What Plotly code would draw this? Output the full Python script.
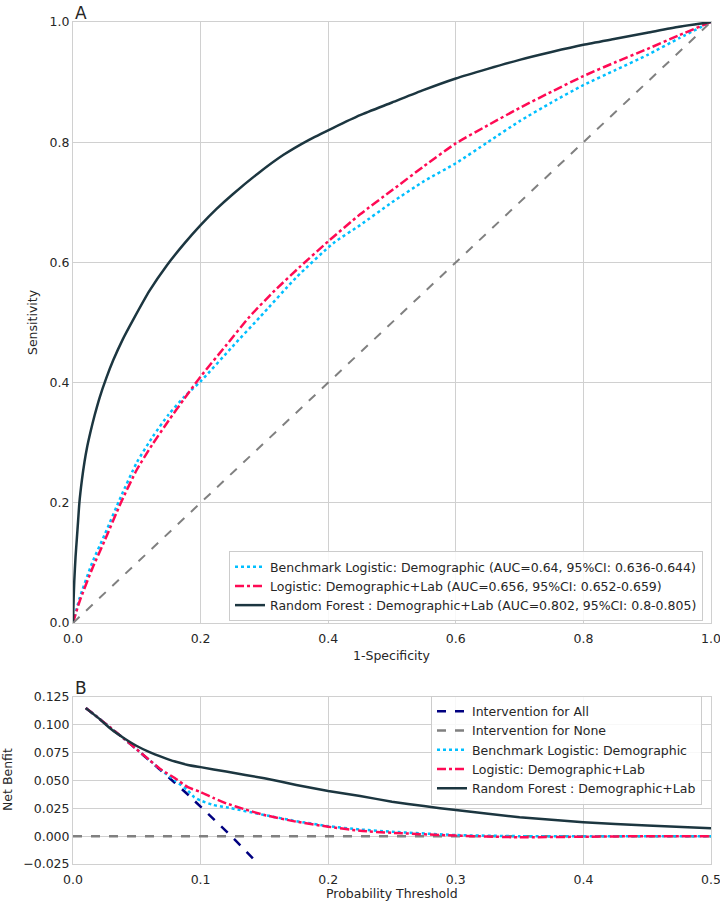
import plotly.graph_objects as go
from plotly.subplots import make_subplots

# ---- Panel A: ROC curves ----
diag_x = [0.0, 1.0]
diag_y = [0.0, 1.0]

bench_fpr = [0, 0.01, 0.03, 0.05, 0.075, 0.1, 0.125, 0.15, 0.175, 0.2, 0.25, 0.293, 0.35, 0.408, 0.45, 0.5,
             0.55, 0.6, 0.65, 0.7, 0.75, 0.8, 0.85, 0.9, 0.95, 1.0]
bench_tpr = [0, 0.04, 0.1, 0.148, 0.21, 0.267, 0.31, 0.347, 0.377, 0.402, 0.46, 0.509, 0.575, 0.632, 0.662,
             0.7, 0.735, 0.765, 0.8, 0.835, 0.866, 0.895, 0.92, 0.945, 0.973, 1.0]

logit_fpr = [0, 0.01, 0.03, 0.05, 0.075, 0.1, 0.125, 0.15, 0.175, 0.2, 0.24, 0.277, 0.316, 0.356, 0.4, 0.45,
             0.5, 0.55, 0.6, 0.65, 0.7, 0.75, 0.8, 0.85, 0.9, 0.95, 1.0]
logit_tpr = [0, 0.035, 0.09, 0.138, 0.2, 0.255, 0.298, 0.337, 0.374, 0.41, 0.462, 0.51, 0.553, 0.593, 0.635,
             0.68, 0.72, 0.76, 0.798, 0.828, 0.857, 0.884, 0.91, 0.933, 0.955, 0.978, 1.0]

rf_fpr = [0, 0.001, 0.002, 0.004, 0.006, 0.008, 0.01, 0.014, 0.018, 0.022, 0.027, 0.034, 0.042, 0.052,
          0.063, 0.078, 0.094, 0.12, 0.147, 0.175, 0.2, 0.225, 0.25, 0.29, 0.33, 0.37, 0.408, 0.45, 0.5,
          0.55, 0.6, 0.65, 0.7, 0.75, 0.8, 0.85, 0.9, 0.95, 1.0]
rf_tpr = [0, 0.04, 0.07, 0.11, 0.14, 0.17, 0.2, 0.238, 0.268, 0.292, 0.316, 0.346, 0.376, 0.407,
          0.437, 0.472, 0.504, 0.553, 0.595, 0.632, 0.662, 0.689, 0.713, 0.748, 0.779, 0.804, 0.824, 0.845,
          0.866, 0.887, 0.906, 0.922, 0.937, 0.95, 0.962, 0.972, 0.982, 0.992, 1.0]

roc_names = [
    "Benchmark Logistic: Demographic (AUC=0.64, 95%CI: 0.636-0.644)",
    "Logistic: Demographic+Lab (AUC=0.656, 95%CI: 0.652-0.659)",
    "Random Forest : Demographic+Lab (AUC=0.802, 95%CI: 0.8-0.805)",
]

# ---- Panel B: decision curves ----
all_t = [0.01, 0.02, 0.03, 0.04, 0.05, 0.06, 0.07, 0.08, 0.09, 0.10, 0.11, 0.12, 0.13, 0.14, 0.15]
all_nb = [0.1152, 0.1061, 0.0969, 0.0875, 0.0779, 0.0681, 0.0581, 0.0478, 0.0374, 0.0267,
          0.0157, 0.0046, -0.0069, -0.0186, -0.0306]

none_t = [0.0, 0.5]
none_nb = [0.0, 0.0]

bench_t = [0.01, 0.02, 0.03, 0.04, 0.05, 0.06, 0.07, 0.08, 0.09, 0.095, 0.1, 0.11, 0.12, 0.15, 0.175,
           0.2, 0.225, 0.25, 0.3, 0.35, 0.4, 0.45, 0.5]
bench_nb = [0.1152, 0.1061, 0.0969, 0.0875, 0.0779, 0.0681, 0.0585, 0.05, 0.041, 0.035, 0.032, 0.028,
            0.026, 0.019, 0.0135, 0.009, 0.006, 0.004, 0.001, 0.0, 0.0, 0.0, 0.0]

logit_t = [0.01, 0.02, 0.03, 0.04, 0.05, 0.06, 0.07, 0.08, 0.09, 0.1, 0.11, 0.12, 0.135, 0.15, 0.175,
           0.2, 0.225, 0.25, 0.3, 0.35, 0.4, 0.45, 0.5]
logit_nb = [0.1152, 0.1061, 0.0969, 0.0875, 0.0779, 0.0683, 0.059, 0.052, 0.044, 0.0397, 0.0343, 0.0295,
            0.024, 0.019, 0.013, 0.0085, 0.0048, 0.003, 0.0005, -0.001, -0.0005, 0.0, 0.0]

rf_t = [0.01, 0.02, 0.03, 0.04, 0.05, 0.06, 0.07, 0.08, 0.09, 0.10, 0.12, 0.15, 0.175, 0.2, 0.225,
        0.25, 0.275, 0.3, 0.35, 0.4, 0.45, 0.5]
rf_nb = [0.115, 0.106, 0.096, 0.088, 0.081, 0.0755, 0.071, 0.067, 0.064, 0.062, 0.058, 0.052, 0.046,
         0.0405, 0.036, 0.031, 0.027, 0.0234, 0.017, 0.0126, 0.0095, 0.0072]

dca_names = [
    "Intervention for All",
    "Intervention for None",
    "Benchmark Logistic: Demographic",
    "Logistic: Demographic+Lab",
    "Random Forest : Demographic+Lab",
]

CYAN = "#00bfff"
RED = "#ff0a54"
DARK = "#1c3640"
GREY = "#808080"
NAVY = "#000080"
GRID = "#d0d0d0"
TXT = "#262626"
LW = 2.5

# figure fills the whole window (body margin removed in post_script below)
W, H = 720, 902


def px(x):
    return x / W


def py(y):
    return 1 - y / H


fig = make_subplots(rows=2, cols=1)

# panel A
fig.add_trace(go.Scatter(x=bench_fpr, y=bench_tpr, mode="lines", name=roc_names[0],
                         line=dict(color=CYAN, width=LW, dash="dot", shape="spline", smoothing=0.6),
                         legend="legend"), row=1, col=1)
fig.add_trace(go.Scatter(x=logit_fpr, y=logit_tpr, mode="lines", name=roc_names[1],
                         line=dict(color=RED, width=LW, dash="dashdot", shape="spline", smoothing=0.6),
                         legend="legend"), row=1, col=1)
fig.add_trace(go.Scatter(x=rf_fpr, y=rf_tpr, mode="lines", name=roc_names[2],
                         line=dict(color=DARK, width=LW, shape="spline", smoothing=0.6),
                         legend="legend"), row=1, col=1)
fig.add_trace(go.Scatter(x=diag_x, y=diag_y, mode="lines", showlegend=False,
                         line=dict(color=GREY, width=2, dash="dash")), row=1, col=1)

# panel B
fig.add_trace(go.Scatter(x=all_t, y=all_nb, mode="lines", name=dca_names[0],
                         line=dict(color=NAVY, width=LW, dash="dash"), legend="legend2"), row=2, col=1)
fig.add_trace(go.Scatter(x=none_t, y=none_nb, mode="lines", name=dca_names[1],
                         line=dict(color=GREY, width=LW, dash="dash"), legend="legend2"), row=2, col=1)
fig.add_trace(go.Scatter(x=bench_t, y=bench_nb, mode="lines", name=dca_names[2],
                         line=dict(color=CYAN, width=LW, dash="dot", shape="spline", smoothing=0.5),
                         legend="legend2"), row=2, col=1)
fig.add_trace(go.Scatter(x=logit_t, y=logit_nb, mode="lines", name=dca_names[3],
                         line=dict(color=RED, width=LW, dash="dashdot", shape="spline", smoothing=0.5),
                         legend="legend2"), row=2, col=1)
fig.add_trace(go.Scatter(x=rf_t, y=rf_nb, mode="lines", name=dca_names[4],
                         line=dict(color=DARK, width=LW, shape="spline", smoothing=0.5),
                         legend="legend2"), row=2, col=1)

axis_style = dict(showgrid=True, gridcolor=GRID, gridwidth=1, showline=True, linecolor=GRID,
                  linewidth=1, mirror=True, zeroline=False, ticks="", automargin=False,
                  ticklabeloverflow="allow", tickfont=dict(size=12.5, color=TXT))

xdom = [px(73), px(711)]
fig.update_xaxes(axis_style)
fig.update_yaxes(axis_style)
fig.update_xaxes(ticklabelstandoff=4)
fig.update_xaxes(domain=xdom, range=[0, 1], tickvals=[0, 0.2, 0.4, 0.6, 0.8, 1.0],
                 ticktext=["0.0", "0.2", "0.4", "0.6", "0.8", "1.0"], row=1, col=1)
fig.update_yaxes(domain=[py(623), py(22)], range=[0, 1], tickvals=[0, 0.2, 0.4, 0.6, 0.8, 1.0],
                 ticktext=["0.0", "0.2", "0.4", "0.6", "0.8", "1.0"], row=1, col=1)
fig.update_xaxes(domain=xdom, range=[0, 0.5], tickvals=[0, 0.1, 0.2, 0.3, 0.4, 0.5],
                 ticktext=["0.0", "0.1", "0.2", "0.3", "0.4", "0.5"], row=2, col=1)
fig.update_yaxes(domain=[py(864), py(697)], range=[-0.025, 0.125],
                 tickvals=[-0.025, 0, 0.025, 0.05, 0.075, 0.1, 0.125],
                 ticktext=["\u22120.025", "0.000", "0.025", "0.050", "0.075", "0.100", "0.125"], row=2, col=1)

legend_style = dict(bgcolor="rgba(255,255,255,0.85)", bordercolor="#cccccc", borderwidth=1,
                    font=dict(size=12.5, color=TXT), xanchor="right",
                    tracegroupgap=0, itemwidth=30)

fig.update_layout(
    width=W,
    height=H,
    margin=dict(l=0, r=0, t=0, b=0),
    paper_bgcolor="white",
    plot_bgcolor="white",
    font=dict(family="DejaVu Sans", size=12.5, color=TXT),
    legend=dict(legend_style, x=px(703), y=py(621), yanchor="bottom"),
    legend2=dict(legend_style, x=px(702), y=py(750), yanchor="middle"),
)

labels = [
    # text, page x, page y, angle, size, xanchor, yanchor
    ("A", 73, 1, 0, 17, "left", "top"),
    ("B", 73, 676, 0, 17, "left", "top"),
    ("1-Specificity", 392, 655, 0, 12.5, "center", "middle"),
    ("Sensitivity", 33, 322, -90, 12.5, "center", "middle"),
    ("Probability Threshold", 392, 893, 0, 12.5, "center", "middle"),
    ("Net Benfit", 7, 780, -90, 12.5, "center", "middle"),
]
for text, lx, ly, ang, size, xa, ya in labels:
    fig.add_annotation(text=text, x=px(lx), y=py(ly), xref="paper", yref="paper", textangle=ang,
                       xanchor=xa, yanchor=ya, showarrow=False, font=dict(size=size, color=TXT))

fig.write_html("out.html", config={"displayModeBar": False},
               post_script="document.body.style.margin = '0px';")
